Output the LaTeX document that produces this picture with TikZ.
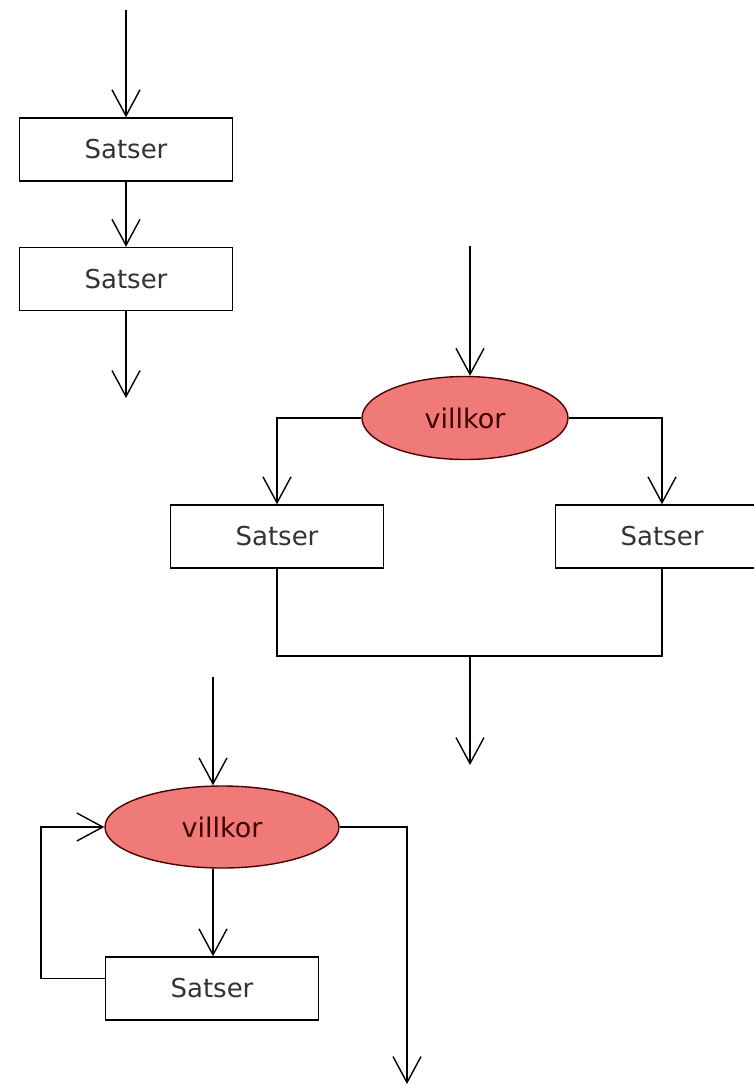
\documentclass[tikz,border=0pt]{standalone}
\usepackage{fontspec}
\setmainfont{DejaVu Sans}
\usetikzlibrary{arrows.meta,shapes.geometric}

\begin{document}
\begin{tikzpicture}[x=1pt,y=-1pt,line width=1.4pt,
  >={Straight Barb[length=26pt,width=28pt,line width=1.4pt]},
  box/.style={draw,rectangle,minimum width=213pt,minimum height=63pt,inner sep=0pt,
    font=\fontsize{26}{30}\selectfont,text=black!80},
  cond/.style={draw=red!30!black,ellipse,fill=cndfill,inner sep=0pt,
    font=\fontsize{27}{30}\selectfont,text=red!25!black}]
\definecolor{cndfill}{RGB}{240,122,120}
\useasboundingbox (0,0) rectangle (754,1085);

% sequence
\coordinate (in1) at (126,10);
\coordinate (out1) at (126,398);
\node[box] (s1) at (126,149.5) {Satser};
\node[box] (s2) at (126,279) {Satser};
\draw[->] (in1) -- (s1.north);
\draw[->] (s1.south) -- (s2.north);
\draw[->] (s2.south) -- (out1);

% selection
\coordinate (in2) at (470,246);
\coordinate (m) at (470,656);
\coordinate (out2) at (470,765);
\node[cond,minimum width=206pt,minimum height=83pt] (c1) at (465,418) {villkor};
\node[box] (sl) at (277,536.5) {Satser};
\node[box] (sr) at (662,536.5) {Satser};
\draw[->] (in2) -- (in2 |- c1.north);
\draw[->] (c1.west) -| (sl.north);
\draw[->] (c1.east) -| (sr.north);
\draw (sl.south) |- (m) -| (sr.south);
\draw[->] (m) -- (out2);

% iteration
\coordinate (in3) at (213,677);
\coordinate (out3) at (407,1084);
\node[cond,minimum width=234pt,minimum height=82pt] (c2) at (222,827) {villkor};
\node[box] (s4) at (212,988.5) {Satser};
\draw[->] (in3) -- (in3 |- c2.north);
\draw[->] (in3 |- c2.south) -- (in3 |- s4.north);
\draw[->] ([yshift=10pt]s4.west) -- ++(-64,0) |- (c2.west);
\draw[->] (c2.east) -| (out3);
\end{tikzpicture}
\end{document}
